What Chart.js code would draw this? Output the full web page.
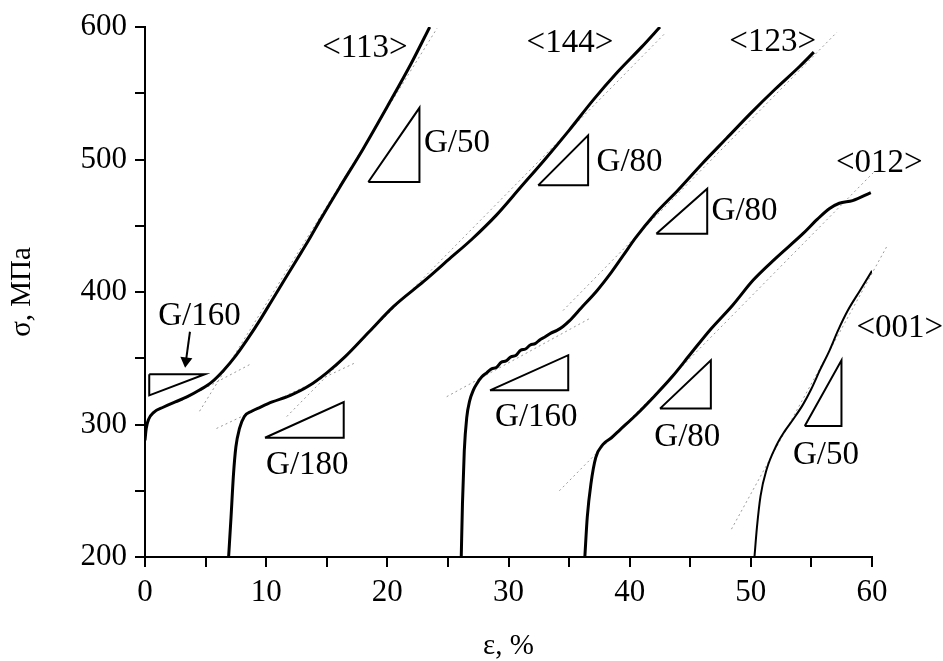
<!DOCTYPE html>
<html>
<head>
<meta charset="utf-8">
<script src="https://cdn.jsdelivr.net/npm/chart.js@4/dist/chart.umd.min.js"></script>
<style>
  body { margin: 0; background: #fff; }
  canvas { display: block; }
</style>
</head>
<body>
<canvas id="c" width="943" height="661" style="width:943px;height:661px"></canvas>
<script>
// stress-strain curves, strain in %, stress in MPa
const eps113 = [0, 0.1, 0.3, 0.7, 1.5, 2.5, 3.5, 4.5, 5.5, 6.5, 7.5, 8.5, 9.5, 10.5, 11.5, 12.5, 13.5, 14.5, 16, 18, 20, 22, 23.5]
const sig113 = [288, 297, 304, 309, 313, 317, 321, 326, 332, 341, 352, 365, 379, 394, 409, 424, 439, 455, 478, 508, 540, 573, 600]

const eps144 = [6.9, 7.1, 7.3, 7.5, 7.8, 8.2, 8.8, 9.5, 10.5, 12, 13.5, 15, 16.5, 18.5, 20.5, 23, 25, 27, 29, 31, 33, 35, 37, 39, 41, 42.5]
const sig144 = [200, 230, 262, 283, 297, 306, 310, 313, 317, 322, 329, 339, 351, 370, 389, 408, 424, 440, 458, 479, 500, 522, 545, 566, 585, 600]

const eps123 = [26.1, 26.2, 26.35, 26.55, 26.8, 27.1, 27.4, 27.8, 28.2, 28.6, 29.0, 29.4, 29.8, 30.2, 30.6, 31.0, 31.4, 31.8, 32.2, 32.6, 33.0, 33.5, 34.0, 34.5, 35.0, 36, 37.3, 38.5, 39.5, 40.5, 42, 44, 46, 48, 50, 52, 54, 55.2]
const sig123 = [200, 240, 280, 305, 318, 326, 331, 336, 339, 342, 343, 347, 348, 351, 352, 356, 357, 360, 361, 364, 366, 369, 371, 374, 378, 388, 401, 415, 428, 441, 458, 477, 497, 516, 535, 553, 570, 581]

const eps012 = [36.3, 36.5, 36.8, 37.2, 37.8, 38.5, 39.2, 40.5, 42, 43.5, 45, 46.6, 48.5, 50.2, 52, 54.3, 55.5, 56.5, 57.3, 58.4, 59.9]
const sig012 = [200, 230, 255, 275, 285, 290, 296, 307, 321, 336, 353, 371, 390, 409, 425, 444, 455, 463, 467, 469, 475]

const eps001 = [50.3, 50.5, 50.8, 51.3, 52.1, 52.8, 53.5, 54.3, 55, 55.7, 56.5, 57.2, 58, 59, 60]
const sig001 = [200, 222, 246, 266, 284, 295, 304, 315, 327, 341, 356, 371, 386, 401, 416]

// dotted slope lines (start, end)
const tanX = [[3, 8.8], [4.5, 24.1], [5.9, 17.45], [11.7, 43], [24.9, 36.7], [34.5, 57.1], [34.2, 60.1], [48.4, 61.2]]
const tanY = [[318, 346], [310, 599], [297, 347], [306, 596], [321, 380], [386, 596], [250, 490], [221, 434]]

// slope triangles
const triX = [
  [0.35, 4.95, 0.35, 0.35],
  [9.9, 16.4, 16.4, 9.9],
  [18.43, 22.65, 22.65, 18.43],
  [32.45, 36.57, 36.57, 32.45],
  [42.2, 46.4, 46.4, 42.2],
  [28.47, 34.93, 34.93, 28.47],
  [42.5, 46.7, 46.7, 42.5],
  [54.45, 57.48, 57.48, 54.45]
]
const triY = [
  [338, 338, 322, 338],
  [290, 290, 317, 290],
  [483, 483, 539, 483],
  [480.5, 480.5, 518.2, 480.5],
  [444, 444, 478, 444],
  [325.8, 325.8, 352.3, 325.8],
  [312, 312, 348.5, 312],
  [298.9, 298.9, 348.5, 298.9]
]

const arrowX = [3.71, 3.38]
const arrowY = [370, 348]

// text labels: [text, x, y, align]
const labels = [
  ['<113>', 18.15, 584, 'center'],
  ['<144>', 35.07, 588, 'center'],
  ['<123>', 51.8, 588.5, 'center'],
  ['<012>', 60.6, 497, 'center'],
  ['<001>', 62.3, 372.5, 'center'],
  ['G/160', 4.5, 382, 'center'],
  ['G/50', 23.02, 512, 'left'],
  ['G/80', 37.27, 498, 'left'],
  ['G/80', 46.76, 461, 'left'],
  ['G/180', 13.4, 269, 'center'],
  ['G/160', 32.3, 305.7, 'center'],
  ['G/80', 44.76, 290.6, 'center'],
  ['G/50', 56.2, 276.8, 'center']
]

const serif = "'Liberation Serif', 'Times New Roman', serif"

function pts(xs, ys) {
    return xs.map((x, i) => ({x: x, y: ys[i]}))
}

function curve(xs, ys, w) {
    return {data: pts(xs, ys), borderColor: '#000', borderWidth: w, pointRadius: 0,
        showLine: true, cubicInterpolationMode: 'monotone'}
}

let datasets = []
datasets.push({data: pts(arrowX, arrowY), borderColor: '#000', backgroundColor: '#000', borderWidth: 2,
    pointRadius: [0, 5], pointStyle: 'triangle', rotation: 187, showLine: true})
triX.forEach((xs, i) => {
    datasets.push({data: pts(xs, triY[i]), borderColor: '#000', borderWidth: 2, pointRadius: 0,
        showLine: true, tension: 0, borderJoinStyle: 'miter'})
})
datasets.push(curve(eps113, sig113, 3))
datasets.push(curve(eps144, sig144, 3))
datasets.push(curve(eps123, sig123, 3))
datasets.push(curve(eps012, sig012, 3))
datasets.push(curve(eps001, sig001, 2))
tanX.forEach((xs, i) => {
    datasets.push({data: pts(xs, tanY[i]), borderColor: '#9a9a9a', borderWidth: 1, borderDash: [2, 3],
        pointRadius: 0, showLine: true, clip: false})
})

const textPlugin = {
    id: 'texts',
    afterDatasetsDraw(chart) {
        const ctx = chart.ctx
        const xs = chart.scales.x, ys = chart.scales.y
        ctx.save()
        ctx.fillStyle = '#000'
        ctx.font = '33px ' + serif
        ctx.textBaseline = 'middle'
        labels.forEach(l => {
            ctx.textAlign = l[3]
            ctx.fillText(l[0], xs.getPixelForValue(l[1]), ys.getPixelForValue(l[2]))
        })
        ctx.restore()
    }
}

new Chart(document.getElementById('c'), {
    type: 'scatter',
    data: {datasets: datasets},
    plugins: [textPlugin],
    options: {
        responsive: false,
        animation: false,
        devicePixelRatio: 1,
        layout: {padding: {left: 0, right: 71, top: 27, bottom: 0}},
        plugins: {legend: {display: false}, tooltip: {enabled: false}},
        scales: {
            x: {
                min: 0, max: 60,
                afterFit: s => { s.height = 104 },
                ticks: {stepSize: 5, color: '#000', padding: 7, font: {family: serif, size: 31},
                    maxRotation: 0, autoSkip: false,
                    callback: v => v % 10 === 0 ? v : ''},
                grid: {drawOnChartArea: false, drawTicks: true, tickLength: 10, color: '#000', lineWidth: 2},
                border: {display: true, color: '#000', width: 2},
                title: {display: true, text: 'ε, %', color: '#000', padding: 0,
                    font: {family: serif, size: 29, lineHeight: 1}}
            },
            y: {
                min: 200, max: 600,
                afterFit: s => { s.width = 145 },
                ticks: {stepSize: 50, color: '#000', padding: 8, font: {family: serif, size: 31},
                    autoSkip: false,
                    callback: v => v % 100 === 0 ? v : ''},
                grid: {drawOnChartArea: false, drawTicks: true, tickLength: 10, color: '#000', lineWidth: 2},
                border: {display: true, color: '#000', width: 2},
                title: {display: true, text: 'σ, МПа', color: '#000', padding: {top: 8, bottom: 0},
                    font: {family: serif, size: 29, lineHeight: 1}}
            }
        }
    }
})
</script>
</body>
</html>
